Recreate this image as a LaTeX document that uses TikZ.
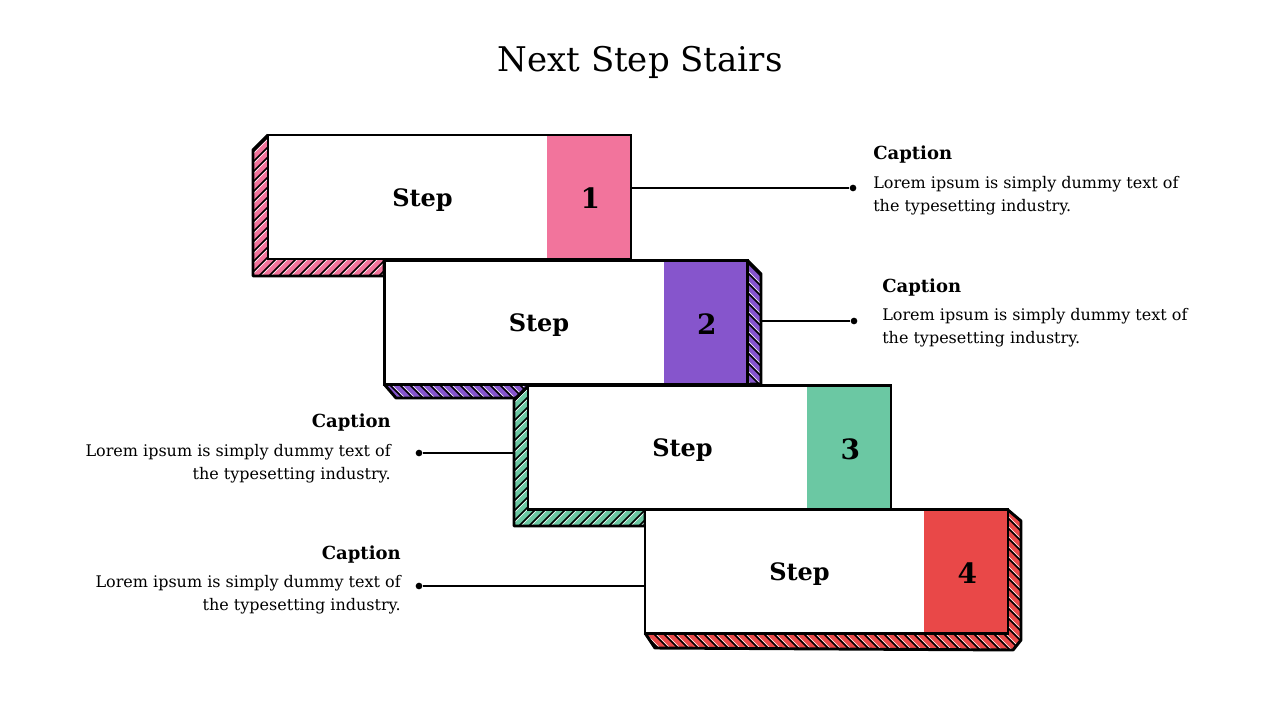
\documentclass[tikz,border=0pt]{standalone}
\usepackage{fontspec}
\setmainfont{DejaVu Serif}
\usepackage{tikz}
\usetikzlibrary{positioning}

\definecolor{stepPink}{HTML}{F2749C}
\definecolor{stepPurple}{HTML}{8655CC}
\definecolor{stepGreen}{HTML}{6BC8A3}
\definecolor{stepRed}{HTML}{E94848}

\begin{document}
\begin{tikzpicture}[x=0.75pt, y=-0.75pt,
    stepbox/.style={draw, line width=2.2pt, fill=white, minimum width=272.25pt,
        minimum height=93pt, inner sep=0pt,
        path picture={\fill[#1] ([xshift=-63pt]path picture bounding box.north east)
            rectangle (path picture bounding box.south east);}},
    steptext/.style={font=\bfseries\fontsize{18}{20}\selectfont},
    numtext/.style={font=\bfseries\fontsize{21}{24}\selectfont},
    shadowline/.style={line width=2.2pt, line join=round},
    hatchdark/.style={black, line width=1.2pt},
    hatchlight/.style={white, line width=0.5pt},
    capdot/.style={circle, fill=black, inner sep=0pt, minimum size=5pt},
    leader/.style={line width=1pt},
    captitle/.style={inner sep=0pt, font=\bfseries\fontsize{13.5}{16}\selectfont},
    captext/.style={inner sep=0pt, font=\fontsize{12}{17.25}\selectfont}
]
    \useasboundingbox (0,0) rectangle (1280,720);

    % Title
    \node[font=\fontsize{25.5}{30}\selectfont] (title) at (640,62.5) {Next Step Stairs};

    % Caption dots
    \node[capdot] (d1) at (853,188) {};
    \node[capdot] (d2) at (854,321) {};
    \node[capdot] (d3) at (419,453) {};
    \node[capdot] (d4) at (419,586) {};

    % Step 1 shadow (left and bottom)
    \fill[stepPink] (268,135) -- (253,150) -- (253,276) -- (384,276) -- (384,259) -- (268,259) -- cycle;
    \begin{scope}
        \clip (268,135) -- (253,150) -- (253,276) -- (384,276) -- (384,259) -- (268,259) -- cycle;
        \foreach \k in {285,295,...,575} {
            \draw[hatchdark] (\k,100) -- ++(-300,300);
            \draw[hatchlight] (\k+2,100) -- ++(-300,300);
        }
    \end{scope}
    \draw[shadowline] (268,135) -- (253,150) -- (253,276) -- (384,276) -- (384,259);

    % Step 1 box
    \node[stepbox=stepPink] (s1) at (449.5,197) {};
    \node[steptext] (t1) at ([xshift=117pt,yshift=-2pt]s1.west) {Step};
    \node[numtext] (n1) at ([xshift=-31.5pt,yshift=-1pt]s1.east) {1};
    \draw[leader] (d1 -| s1.east) -- (d1);

    % Step 2 shadow (right and bottom)
    \fill[stepPurple] (748,261) -- (761,274) -- (761,384) -- (748,384) -- cycle;
    \fill[stepPurple] (384,384) -- (396,398) -- (528,398) -- (528,384) -- cycle;
    \begin{scope}
        \clip (748,261) -- (761,274) -- (761,384) -- (748,384) -- cycle
              (384,384) -- (396,398) -- (528,398) -- (528,384) -- cycle;
        \foreach \k in {85,95,...,605} {
            \draw[hatchdark] (\k,100) -- ++(300,300);
            \draw[hatchlight] (\k+2,100) -- ++(300,300);
        }
    \end{scope}
    \draw[shadowline] (748,261) -- (761,274) -- (761,384) -- (748,384);
    \draw[shadowline] (384,384) -- (396,398) -- (528,398);

    % Step 2 box
    \node[stepbox=stepPurple] (s2) at (566,322.5) {};
    \node[steptext] (t2) at ([xshift=117pt,yshift=-2pt]s2.west) {Step};
    \node[numtext] (n2) at ([xshift=-31.5pt,yshift=-1pt]s2.east) {2};
    \draw[leader] ([xshift=9.75pt]d2 -| s2.east) -- (d2);

    % Step 3 shadow (left and bottom)
    \fill[stepGreen] (528,386) -- (514,400) -- (514,526) -- (645,526) -- (645,509) -- (528,509) -- cycle;
    \begin{scope}
        \clip (528,386) -- (514,400) -- (514,526) -- (645,526) -- (645,509) -- (528,509) -- cycle;
        \foreach \k in {795,805,...,1075} {
            \draw[hatchdark] (\k,100) -- ++(-600,600);
            \draw[hatchlight] (\k+2,100) -- ++(-600,600);
        }
    \end{scope}
    \draw[shadowline] (528,386) -- (514,400) -- (514,526) -- (645,526) -- (645,509);

    % Step 3 box
    \node[stepbox=stepGreen] (s3) at (709.5,447.5) {};
    \node[steptext] (t3) at ([xshift=117pt,yshift=-2pt]s3.west) {Step};
    \node[numtext] (n3) at ([xshift=-31.5pt,yshift=-1pt]s3.east) {3};
    \draw[leader] (d3) -- ([xshift=-10.5pt]d3 -| s3.west);

    % Step 4 shadow (right and bottom)
    \fill[stepRed] (1008,510) -- (1021,521) -- (1021,640) -- (1013,650) -- (655,648) -- (645,633) -- cycle;
    \begin{scope}
        \clip (1008,510) -- (1021,521) -- (1021,640) -- (1013,650) -- (655,648) -- (645,633) -- cycle;
        \foreach \k in {90,100,...,620} {
            \draw[hatchdark] (\k,100) -- ++(600,600);
            \draw[hatchlight] (\k+2,100) -- ++(600,600);
        }
    \end{scope}
    \draw[shadowline] (1008,510) -- (1021,521) -- (1021,640) -- (1013,650) -- (655,648) -- (645,633);

    % Step 4 box
    \node[stepbox=stepRed] (s4) at (826.5,571.5) {};
    \node[steptext] (t4) at ([xshift=117pt,yshift=-2pt]s4.west) {Step};
    \node[numtext] (n4) at ([xshift=-31.5pt,yshift=-1pt]s4.east) {4};
    \draw[leader] (d4) -- (d4 -| s4.west);

    % Captions
    \node[captitle, anchor=west] (c1) at (873,154.5) {Caption};
    \node[captext, anchor=west, align=left] (x1) at (873,196) {Lorem ipsum is simply dummy text of\\the typesetting industry.};
    \node[captitle, anchor=west] (c2) at (882,287.5) {Caption};
    \node[captext, anchor=west, align=left] (x2) at (882,328) {Lorem ipsum is simply dummy text of\\the typesetting industry.};
    \node[captitle, anchor=east] (c3) at (391,422.5) {Caption};
    \node[captext, anchor=east, align=right] (x3) at (391,464) {Lorem ipsum is simply dummy text of\\the typesetting industry.};
    \node[captitle, anchor=east] (c4) at (401,554.5) {Caption};
    \node[captext, anchor=east, align=right] (x4) at (401,595) {Lorem ipsum is simply dummy text of\\the typesetting industry.};
\end{tikzpicture}
\end{document}
